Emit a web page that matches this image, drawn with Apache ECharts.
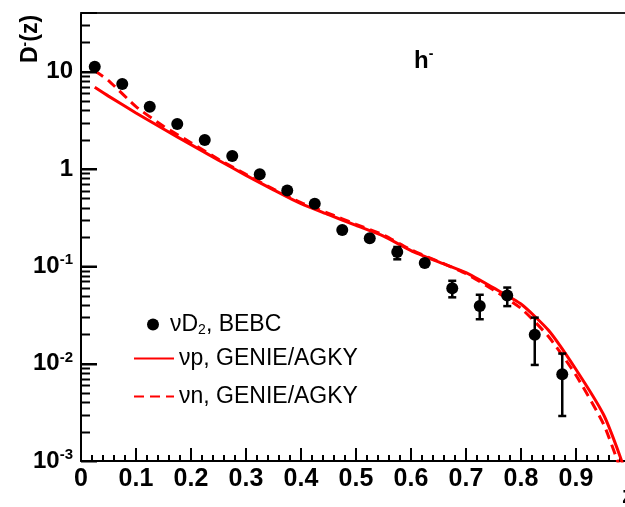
<!DOCTYPE html>
<html>
<head>
<meta charset="utf-8">
<script src="https://cdn.jsdelivr.net/npm/echarts@6/dist/echarts.min.js"></script>
<style>html,body{margin:0;padding:0;background:#fff;overflow:hidden;}#c{width:634px;height:507px;}</style>
</head>
<body>
<div id="c"></div>
<script>
// ---- data ----
const dataZ = [0.025,0.075,0.125,0.175,0.225,0.275,0.325,0.375,0.425,0.475,0.525,0.575,0.625,0.675,0.725,0.775,0.825,0.875];
const dataD = [11.2,7.45,4.35,2.89,1.98,1.36,0.88,0.60,0.44,0.236,0.194,0.14,0.108,0.0596,0.039,0.050,0.0198,0.0078];
const errZ  = [0.575,0.675,0.725,0.775,0.825,0.875];
const errLo = [0.118,0.048,0.0286,0.039,0.0097,0.0029];
const errHi = [0.158,0.071,0.051,0.0605,0.0297,0.0127];
const curveZ  = [0.025,0.05,0.1,0.15,0.2,0.25,0.3,0.35,0.4,0.45,0.5,0.55,0.6,0.65,0.7,0.75,0.8,0.85,0.9,0.95,0.98,1.0];
const vpVals  = [6.9,5.6,3.76,2.57,1.78,1.23,0.86,0.61,0.44,0.34,0.263,0.204,0.145,0.111,0.086,0.060,0.041,0.022,0.0087,0.0030,0.00112,0.0005];
const vnVals  = [10.2,8.1,4.37,2.75,1.86,1.26,0.88,0.62,0.45,0.35,0.27,0.21,0.148,0.112,0.084,0.057,0.037,0.019,0.0076,0.0024,0.00085,0.0004];
const yMinorTicks = [0.002,0.003,0.004,0.005,0.006,0.007,0.008,0.009,0.02,0.03,0.04,0.05,0.06,0.07,0.08,0.09,0.2,0.3,0.4,0.5,0.6,0.7,0.8,0.9,2,3,4,5,6,7,8,9,20,30];
const yMajorTicks = [0.001,0.01,0.1,1,10];
const nameD = 'νD2, BEBC';
const nameP = 'νp, GENIE/AGKY';
const nameN = 'νn, GENIE/AGKY';

const FONT = 'Liberation Sans, Arial, Helvetica, sans-serif';
const chart = echarts.init(document.getElementById('c'), null, {renderer: 'canvas'});

function legendCfg(name, left, top, itemWidth, extra) {
  return Object.assign({
    data: [name], left: left, top: top, orient: 'vertical',
    itemWidth: itemWidth, itemHeight: 12, selectedMode: false, itemGap: 0, padding: 0,
    itemStyle: {opacity: 0},
    textStyle: {fontFamily: FONT, fontSize: 23, color: '#000'}
  }, extra || {});
}

const baseGraphic = [
  {type: 'text', left: 414, top: 47, style: {
    text: 'h{sup|-}', fontFamily: FONT, fontWeight: 'bold', fontSize: 24, fill: '#000',
    rich: {sup: {fontFamily: FONT, fontWeight: 'bold', fontSize: 14, fill: '#000', padding: [0, 0, 14, 0]}}}},
  {type: 'text', x: 31, y: 39, rotation: Math.PI / 2, style: {
    text: 'D{sup|-}(z)', fontFamily: FONT, fontWeight: 'bold', fontSize: 23, fill: '#000',
    align: 'center', verticalAlign: 'middle',
    rich: {sup: {fontFamily: FONT, fontWeight: 'bold', fontSize: 14, fill: '#000', padding: [0, 0, 12, 0]}}}},
  {type: 'text', right: 0, top: 484, style: {text: 'z', fontFamily: FONT, fontWeight: 'bold', fontSize: 24, fill: '#000'}}
];

chart.setOption({
  animation: false,
  backgroundColor: '#fff',
  grid: {left: 81, top: 13, right: 0, bottom: 46, containLabel: false},
  xAxis: [{
    type: 'value', min: 0, max: 1, interval: 0.1,
    axisLine: {show: true, onZero: false, lineStyle: {color: '#000', width: 2}},
    axisTick: {show: true, inside: true, length: 13, lineStyle: {color: '#000', width: 2}},
    minorTick: {show: true, splitNumber: 5, length: 6, lineStyle: {color: '#000', width: 2}},
    splitLine: {show: false},
    axisLabel: {
      margin: 6, fontFamily: FONT, fontWeight: 'bold', fontSize: 25, color: '#000',
      formatter: v => (v > 0.95 ? '' : (v === 0 ? '0' : v.toFixed(1)))
    }
  }, {
    type: 'value', min: 0, max: 1, position: 'top',
    axisLine: {show: true, onZero: false, lineStyle: {color: '#222', width: 2}},
    axisTick: {show: false}, axisLabel: {show: false}, splitLine: {show: false}
  }],
  yAxis: {
    type: 'log', logBase: 10, min: 0.001, max: 40,
    axisLine: {show: true, onZero: false, lineStyle: {color: '#000', width: 2}},
    axisTick: {show: true, inside: true, length: 16, lineStyle: {color: '#000', width: 2}},
    splitLine: {show: false},
    axisLabel: {
      margin: 8, fontFamily: FONT, fontWeight: 'bold', fontSize: 24, color: '#000',
      formatter: v => {
        const e = Math.round(Math.log10(v));
        if (Math.abs(v - Math.pow(10, e)) > 1e-6 * Math.pow(10, e)) return '';
        if (e === 0) return '1';
        if (e === 1) return '10';
        return '10{sup|' + e + '}';
      },
      rich: {sup: {fontFamily: FONT, fontWeight: 'bold', fontSize: 15, color: '#000', padding: [0, 0, 12, 0]}}
    }
  },
  legend: [
    legendCfg(nameD, 147, 313, 24, {itemStyle: {opacity: 1}, formatter: () => 'νD{sub|2}, BEBC',
      textStyle: {fontFamily: FONT, fontSize: 23, color: '#000',
        rich: {sub: {fontFamily: FONT, fontSize: 14, color: '#000', padding: [12, 0, 0, 0]}}}}),
    legendCfg(nameP, 133, 347, 40),
    legendCfg(nameN, 133, 385, 40)
  ],
  graphic: baseGraphic,
  series: [
    {
      name: nameP, type: 'line', data: curveZ.map((z, i) => [z, vpVals[i]]),
      showSymbol: false, symbol: 'none', smooth: 0.2, clip: true, z: 3,
      lineStyle: {color: '#ff0000', width: 3}, itemStyle: {color: '#ff0000'}
    },
    {
      name: nameN, type: 'line', data: curveZ.map((z, i) => [z, vnVals[i]]),
      showSymbol: false, symbol: 'none', smooth: 0.2, clip: true, z: 3,
      lineStyle: {color: '#ff0000', width: 3, type: [10, 6]}, itemStyle: {color: '#ff0000'}
    },
    {
      name: 'err', type: 'custom', z: 4, clip: true,
      data: errZ.map((z, i) => [z, errLo[i], errHi[i]]),
      renderItem: (params, api) => {
        const lo = api.coord([api.value(0), api.value(1)]);
        const hi = api.coord([api.value(0), api.value(2)]);
        const w = 4;
        const st = {stroke: '#000', lineWidth: 2.5};
        return {type: 'group', children: [
          {type: 'line', shape: {x1: lo[0], y1: lo[1], x2: hi[0], y2: hi[1]}, style: st},
          {type: 'line', shape: {x1: lo[0] - w, y1: lo[1], x2: lo[0] + w, y2: lo[1]}, style: st},
          {type: 'line', shape: {x1: hi[0] - w, y1: hi[1], x2: hi[0] + w, y2: hi[1]}, style: st}
        ]};
      }
    },
    {
      name: nameD, type: 'scatter', data: dataZ.map((z, i) => [z, dataD[i]]),
      symbol: 'circle', symbolSize: 12, z: 5, clip: false,
      itemStyle: {color: '#000', opacity: 1}
    }
  ]
});

// y-axis ticks (majors 16px, log minors 2..9 per decade 9px), placed through the chart's own scales
const x0 = chart.convertToPixel({xAxisIndex: 0}, 0);
function tickGraphic(v, len) {
  const y = Math.round(chart.convertToPixel({yAxisIndex: 0}, v)) + 0.5;
  return {type: 'rect', z: 100, silent: true,
    shape: {x: x0, y: y - 1, width: len, height: 2},
    style: {fill: '#000'}};
}
const tickGraphics = yMinorTicks.map(v => tickGraphic(v, 9)).concat(yMajorTicks.map(v => tickGraphic(v, 16)));
chart.setOption({graphic: baseGraphic.concat(tickGraphics)});
</script>
</body>
</html>
